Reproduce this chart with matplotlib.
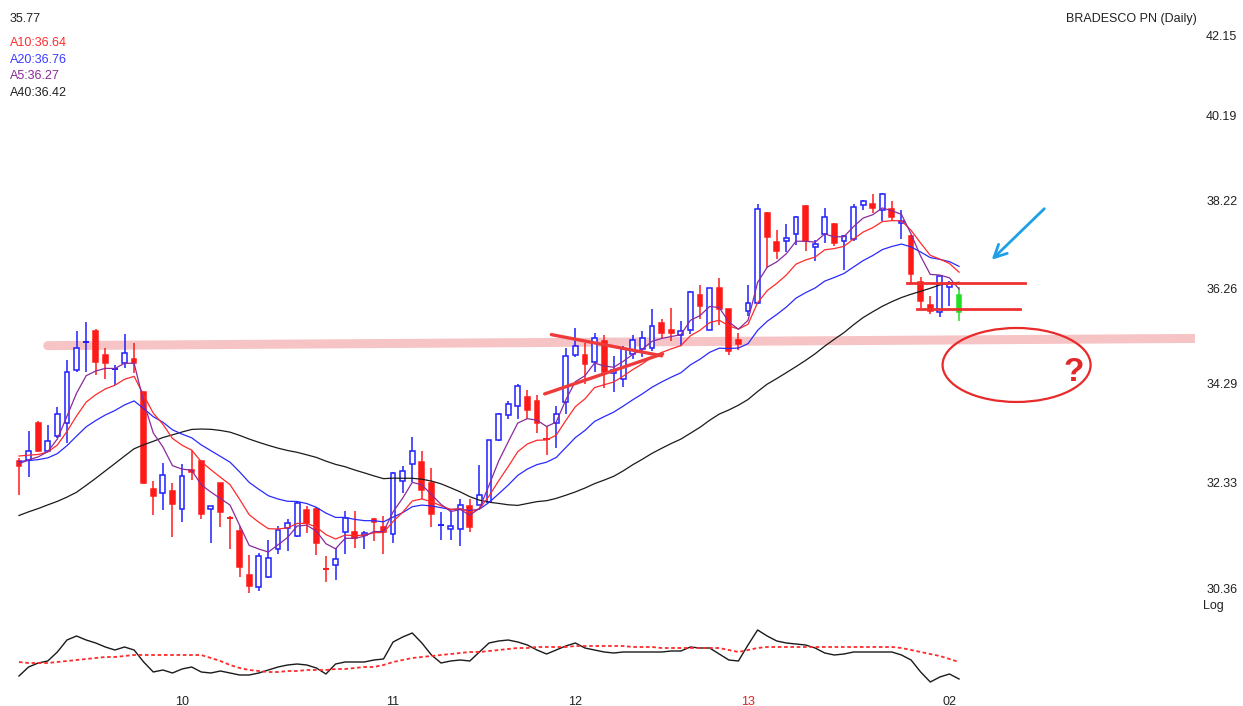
import numpy as np
import pandas as pd
import matplotlib
matplotlib.use("Agg")
import matplotlib.pyplot as plt
from matplotlib.patches import Rectangle, Ellipse
import matplotlib.transforms as mtransforms
from matplotlib.ticker import NullLocator

# ---------------- data ----------------
opens = [32.75, 32.77, 33.49, 32.93, 33.24, 33.49, 34.55, 35.13, 35.36, 34.87,
         34.56, 34.71, 34.79, 34.10, 32.21, 32.13, 32.17, 31.82, 32.57, 32.75,
         31.83, 32.31, 31.67, 31.41, 30.60, 30.38, 30.57, 31.07, 31.47, 31.31,
         31.81, 31.82, 30.72, 30.79, 31.39, 31.39, 31.33, 31.64, 31.49, 31.35,
         32.35, 32.69, 32.72, 32.32, 31.51, 31.44, 31.44, 31.87, 31.90, 31.96,
         33.16, 33.64, 33.82, 34.01, 33.92, 33.18, 33.48, 33.90, 34.87, 34.87,
         34.73, 35.15, 34.50, 34.37, 34.89, 34.98, 35.01, 35.54, 35.38, 35.29,
         35.38, 36.13, 35.39, 36.27, 35.82, 35.17, 35.78, 35.96, 37.94, 37.29,
         37.30, 37.47, 38.09, 37.17, 37.47, 37.69, 37.30, 37.34, 38.11, 38.13,
         38.00, 38.02, 37.70, 37.41, 36.40, 35.92, 35.76, 36.30, 36.13]
highs = [32.80, 33.32, 33.52, 33.44, 33.80, 34.77, 35.36, 35.55, 35.40, 35.01,
         34.66, 35.31, 35.12, 34.11, 32.35, 32.70, 32.32, 32.69, 32.96, 32.77,
         31.88, 32.31, 31.69, 31.50, 30.97, 31.00, 31.25, 31.50, 31.64, 31.95,
         31.87, 31.86, 30.94, 31.09, 31.78, 31.78, 31.41, 31.66, 31.69, 32.53,
         32.65, 33.21, 32.94, 32.60, 31.76, 31.81, 32.01, 32.01, 32.67, 33.16,
         33.69, 33.93, 34.28, 34.15, 34.05, 33.42, 33.83, 35.01, 35.43, 35.12,
         35.32, 35.29, 34.84, 35.05, 35.29, 35.36, 35.83, 35.61, 35.85, 35.57,
         36.22, 36.34, 36.29, 36.49, 35.84, 35.33, 36.34, 38.13, 37.96, 37.54,
         37.69, 37.87, 38.11, 37.32, 38.04, 37.71, 37.43, 38.13, 38.22, 38.36,
         38.38, 38.21, 38.00, 37.43, 36.51, 36.11, 36.54, 36.42, 36.31]
lows = [32.09, 32.43, 32.91, 32.91, 33.19, 33.10, 34.52, 34.52, 34.45, 34.37,
        34.25, 34.60, 34.49, 32.29, 31.70, 31.81, 31.30, 31.57, 32.38, 31.64,
        31.19, 31.49, 31.07, 30.57, 30.27, 30.31, 30.54, 30.99, 31.03, 31.30,
        31.37, 30.96, 30.48, 30.51, 30.98, 31.09, 31.07, 31.22, 30.98, 31.19,
        32.13, 32.34, 32.01, 31.48, 31.25, 31.25, 31.14, 31.39, 31.89, 31.94,
        33.13, 33.57, 33.56, 33.56, 33.29, 32.86, 33.00, 33.66, 34.83, 34.28,
        34.52, 34.20, 34.10, 34.21, 34.78, 34.83, 34.94, 35.19, 35.15, 35.06,
        35.31, 35.62, 35.38, 35.50, 34.87, 34.96, 35.68, 35.94, 36.71, 36.90,
        37.06, 37.21, 37.08, 36.86, 37.26, 37.19, 36.67, 37.30, 38.00, 37.93,
        37.74, 37.76, 37.36, 36.37, 35.85, 35.73, 35.66, 35.90, 35.57]
closes = [32.65, 32.93, 32.93, 33.13, 33.67, 34.52, 35.01, 35.15, 34.73, 34.70,
          34.58, 34.91, 34.70, 32.32, 32.06, 32.47, 31.92, 32.45, 32.52, 31.72,
          31.87, 31.77, 31.65, 30.75, 30.40, 30.94, 30.91, 31.42, 31.56, 31.93,
          31.55, 31.18, 30.71, 30.89, 31.66, 31.28, 31.38, 31.58, 31.39, 32.51,
          32.55, 32.93, 32.19, 31.72, 31.54, 31.50, 31.89, 31.49, 32.09, 33.15,
          33.67, 33.87, 34.23, 33.75, 33.48, 33.17, 33.67, 34.84, 35.06, 34.68,
          35.22, 34.52, 34.56, 34.98, 35.17, 35.21, 35.47, 35.33, 35.33, 35.36,
          36.20, 35.89, 36.27, 35.82, 34.94, 35.10, 35.96, 38.02, 37.39, 37.08,
          37.38, 37.85, 37.30, 37.24, 37.83, 37.26, 37.41, 38.07, 38.20, 38.04,
          38.35, 37.85, 37.74, 36.58, 35.99, 35.78, 36.53, 36.38, 35.77]

# closes of the 39 sessions before the visible window (estimated so that the
# 40-day simple average follows the black line of the reference)
prior_closes = [30.20, 30.45, 30.34, 31.00, 31.30, 31.30,
                29.90, 29.30, 28.98, 28.90, 29.10, 28.99,
                29.20, 29.35, 29.50, 29.80, 30.20, 30.49,
                31.40, 32.10, 32.66, 33.00, 33.30, 33.30,
                33.50, 33.30, 33.60, 33.40, 33.36,
                33.50, 33.20, 33.60, 33.40, 33.49,
                33.80, 33.60, 33.90, 33.53, 32.11]

# exponential averages A5, A10, A20: level just before the first visible bar
ema_periods = [5, 10, 20]
ema_seed = [32.70, 32.88, 32.74]
ema_colors = ["#8a2a9a", "#ff2a2a", "#2a2aff"]
sma_period = 40
sma_color = "#1a1a1a"

# lower oscillator panel
osc_line = [24, 33, 37, 39, 48, 60, 64, 60, 57, 53,
            50, 53, 50, 38, 28, 30, 27, 31, 33, 28,
            27, 29, 27, 25, 25, 27, 30, 33, 35, 36,
            35, 32, 26, 36, 38, 38, 38, 40, 41, 58,
            63, 67, 57, 45, 37, 39, 40, 39, 48, 57,
            59, 60, 58, 55, 50, 46, 50, 54, 57, 52,
            50, 48, 47, 48, 48, 48, 48, 48, 49, 49,
            53, 52, 52, 46, 40, 39, 55, 70, 64, 59,
            57, 56, 55, 52, 47, 45, 46, 48, 48, 48,
            48, 48, 45, 40, 28, 18, 23, 26, 21]
osc_signal = [38, 37, 37, 37, 38, 39, 40, 41, 42, 43,
              43, 44, 45, 45, 45, 45, 45, 45, 45, 45,
              42, 39, 35, 32, 30, 29, 28, 28, 29, 29,
              30, 30, 30, 31, 31, 32, 33, 33, 35, 38,
              40, 42, 43, 44, 45, 46, 47, 48, 48, 49,
              50, 51, 52, 52, 53, 53, 53, 53, 54, 54,
              54, 54, 54, 54, 53, 53, 53, 52, 52, 52,
              52, 52, 52, 52, 50, 48, 50, 52, 53, 53,
              53, 53, 53, 53, 53, 53, 53, 53, 53, 53,
              53, 53, 52, 50, 48, 46, 44, 41, 38]

month_pos = [17, 39, 58, 76, 97]
month_labels = ["10", "11", "12", "13", "02"]
month_colors = ["#222222", "#222222", "#222222", "#e02020", "#222222"]

price_ticks = [30.36, 32.33, 34.29, 36.26, 38.22, 40.19, 42.15]
legend_lines = ["35.77", "A10:36.64", "A20:36.76", "A5:36.27", "A40:36.42"]
legend_colors = ["#222222", "#ff2a2a", "#3a3aff", "#8a2a9a", "#222222"]
title = "BRADESCO PN (Daily)"

# hand-drawn annotations (bar index, price)
support_line = ([3.0, 122.6], [35.06, 35.21])
tri_lower = ([54.8, 67.1], [34.07, 34.89])
tri_upper = ([55.5, 67.0], [35.29, 34.85])
box_upper = ([92.6, 104.9], [36.39, 36.39])
box_lower = ([93.6, 104.4], [35.84, 35.84])
circle_center = (104.0, 34.66)
arrow_tail = (107.1, 38.07)
arrow_head = (101.2, 36.85)
question_pos = (109.9, 34.50)

# ---------------- figure ----------------
W, H = 1243, 706
plt.rcParams['font.family'] = ['Liberation Sans', 'DejaVu Sans']
fig = plt.figure(figsize=(W / 100, H / 100), dpi=100)
fig.patch.set_facecolor("white")

def px_box(x0, y0, x1, y1):
    return [x0 / W, 1 - y1 / H, (x1 - x0) / W, (y1 - y0) / H]

ax = fig.add_axes(px_box(0, 20, 1195, 600))
axb = fig.add_axes(px_box(0, 620, 1195, 690))

n = len(closes)
idx = np.arange(n)
xlim = (-1.98, 122.6)

BLUE = "#1f1fff"
RED = "#ff1a1a"
GREEN = "#22dd22"
bw = 0.5
for i in range(n):
    o, h, l, c = opens[i], highs[i], lows[i], closes[i]
    if i == n - 1:
        col, fill = GREEN, GREEN
    elif c >= o:
        col, fill = BLUE, "white"
    else:
        col, fill = RED, RED
    ax.vlines(i, l, h, color=col, lw=1.1, zorder=3)
    lo_b, hi_b = min(o, c), max(o, c)
    if hi_b - lo_b < 0.03:
        ax.hlines((o + c) / 2, i - 0.35, i + 0.35, color=col, lw=1.4, zorder=4)
    else:
        ax.add_patch(Rectangle((i - bw / 2, lo_b), bw, hi_b - lo_b,
                               facecolor=fill, edgecolor=col, lw=1.1, zorder=4))

# A40: simple average over the prior sessions + visible closes
sma = pd.Series(prior_closes + closes).rolling(sma_period).mean().iloc[-n:]
ax.plot(idx, sma.to_numpy(), color=sma_color, lw=0.9, zorder=5)
# A20, A10, A5: exponential averages seeded with the level before the window
for p, seed, colr in zip(ema_periods[::-1], ema_seed[::-1], ema_colors[::-1]):
    e = pd.Series([seed] + closes).ewm(span=p, adjust=False).mean().iloc[1:]
    ax.plot(idx, e.to_numpy(), color=colr, lw=0.9, zorder=5)

# annotations
ax.plot(*support_line, color="#f7c4c6", lw=6.5, solid_capstyle="round", zorder=1)
ax.plot(*tri_lower, color="#ee3a3a", lw=2.4, zorder=6, solid_capstyle="round")
ax.plot(*tri_upper, color="#ee3a3a", lw=2.4, zorder=6, solid_capstyle="round")
ax.plot(*box_upper, color="#ee3030", lw=2.0, zorder=6)
ax.plot(*box_lower, color="#ee3030", lw=2.0, zorder=6)
ax.annotate("", xy=arrow_head, xytext=arrow_tail,
            arrowprops=dict(arrowstyle="->,head_length=0.9,head_width=0.45",
                            color="#1ea0e6", lw=2.0), zorder=6)

ax.set_yscale("log")
ax.set_ylim(30.15, 42.53)
ax.set_xlim(*xlim)
ax.yaxis.tick_right()
ax.yaxis.set_minor_locator(NullLocator())
ax.set_yticks(price_ticks)
ax.set_yticklabels([f"{v:.2f}" for v in price_ticks])
ax.tick_params(axis="y", length=0, pad=8, labelsize=9, labelcolor="#222222")
ax.set_xticks([])
for sp in ax.spines.values():
    sp.set_visible(False)
ax.patch.set_alpha(0)

# ellipse drawn in pixel units around a data-anchored center
fig.canvas.draw()
cx, cy = ax.transData.transform(circle_center)
ell = Ellipse((0, 0), 148, 74, fill=False, edgecolor="#e82a2a", lw=1.6,
              transform=mtransforms.Affine2D().translate(cx, cy), zorder=6)
ax.add_artist(ell)
ax.text(*question_pos, "?", color="#e02828", fontsize=24, fontweight="bold",
        ha="center", va="center", zorder=7)

# lower panel
axb.plot(idx, osc_line, color="#1a1a1a", lw=1.0)
axb.plot(idx, osc_signal, color="#ff2a2a", lw=1.3, ls=(0, (2.0, 1.5)))
axb.set_xlim(*xlim)
axb.set_ylim(10, 80)
axb.set_yticks([])
axb.set_xticks(month_pos)
axb.set_xticklabels(month_labels)
for lab, colr in zip(axb.get_xticklabels(), month_colors):
    lab.set_color(colr)
axb.tick_params(axis="x", length=0, pad=4, labelsize=9)
for sp in axb.spines.values():
    sp.set_visible(False)
axb.patch.set_alpha(0)

# texts
fig.text(10 / W, 1 - 19 / H, legend_lines[0], color=legend_colors[0], fontsize=9, va="center")
for k, (t, colr) in enumerate(zip(legend_lines[1:], legend_colors[1:])):
    fig.text(10 / W, 1 - (43 + 16.7 * k) / H, t, color=colr, fontsize=9, va="center")
fig.text(1197 / W, 1 - 19 / H, title, color="#222222", fontsize=9, va="center", ha="right")
fig.text(1203 / W, 1 - 606 / H, "Log", color="#222222", fontsize=9, va="center")

fig.savefig("out.png", dpi=100, facecolor="white")
